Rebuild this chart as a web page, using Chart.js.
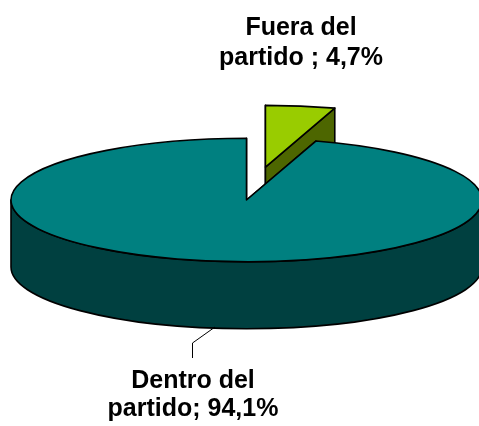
<!DOCTYPE html>
<html>
<head>
<meta charset="utf-8">
<script src="https://cdn.jsdelivr.net/npm/chart.js@4/dist/chart.umd.min.js"></script>
<style>
  html, body { margin: 0; padding: 0; background: #ffffff; }
  #wrap { width: 479px; height: 426px; position: relative; }
</style>
</head>
<body>
<div id="wrap"><canvas id="c" width="479" height="426"></canvas></div>
<script>
// ---- data ----
const categories = ['Fuera del partido', 'Dentro del partido'];
const values = [4.7, 94.1];
const labelLines = [['Fuera del', 'partido'], ['Dentro del', 'partido']];
const labelSeparators = [' ; ', '; '];

// ---- styles ----
const topColors = ['#99CC00', '#008080'];
const sideColors = ['#4D6600', '#004040'];
const explode = [0.54, 0];

const CX = 246.5, CY = 200, RX = 235.5, RY = 61.7, DEPTH = 67;
const FONT = 'bold 25px "Liberation Sans", Arial, sans-serif';

function fmt(v) { return v.toFixed(1).replace('.', ',') + '%'; }

const pie3d = {
  id: 'pie3d',
  beforeDatasetsDraw(chart) {
    const ctx = chart.ctx;
    const meta = chart.getDatasetMeta(0);
    const slices = meta.data.map((arc, i) => {
      const s = arc.startAngle, e = arc.endAngle, mid = (s + e) / 2;
      const ex = explode[i] || 0;
      return {
        i, s, e, mid,
        cx: CX + ex * RX * Math.cos(mid),
        cy: CY + ex * RY * Math.sin(mid),
        top: topColors[i], side: sideColors[i]
      };
    }).sort((a, b) => Math.sin(a.mid) - Math.sin(b.mid));

    ctx.save();
    ctx.lineWidth = 1.6;
    ctx.strokeStyle = '#000000';
    ctx.lineJoin = 'round';
    for (const sl of slices) {
      const {cx, cy, s, e} = sl;
      // radial walls, back first
      const walls = [s, e].sort((a, b) => Math.sin(a) - Math.sin(b));
      for (const a of walls) {
        const px = cx + RX * Math.cos(a), py = cy + RY * Math.sin(a);
        ctx.beginPath();
        ctx.moveTo(cx, cy);
        ctx.lineTo(px, py);
        ctx.lineTo(px, py + DEPTH);
        ctx.lineTo(cx, cy + DEPTH);
        ctx.closePath();
        ctx.fillStyle = sl.side;
        ctx.fill();
        ctx.stroke();
      }
      // front rim
      for (const k of [-2 * Math.PI, 0, 2 * Math.PI]) {
        const lo = Math.max(s, k), hi = Math.min(e, Math.PI + k);
        if (lo < hi) {
          ctx.beginPath();
          ctx.ellipse(cx, cy, RX, RY, 0, lo, hi, false);
          ctx.lineTo(cx + RX * Math.cos(hi), cy + RY * Math.sin(hi) + DEPTH);
          ctx.ellipse(cx, cy + DEPTH, RX, RY, 0, hi, lo, true);
          ctx.closePath();
          ctx.fillStyle = sl.side;
          ctx.fill();
          ctx.stroke();
        }
      }
      // top face
      ctx.beginPath();
      ctx.moveTo(cx, cy);
      ctx.ellipse(cx, cy, RX, RY, 0, s, e, false);
      ctx.closePath();
      ctx.fillStyle = sl.top;
      ctx.fill();
      ctx.stroke();
    }
    ctx.restore();
    return false;
  },
  afterDraw(chart) {
    const ctx = chart.ctx;
    const ds = chart.data.datasets[0];
    ctx.save();
    // leader line for the large slice
    ctx.strokeStyle = '#000000';
    ctx.lineWidth = 1;
    ctx.beginPath();
    ctx.moveTo(215, 327);
    ctx.lineTo(192.5, 343);
    ctx.lineTo(192.5, 358);
    ctx.stroke();

    ctx.font = FONT;
    ctx.fillStyle = '#000000';
    ctx.textAlign = 'center';
    ctx.textBaseline = 'alphabetic';
    const pos = [{x: 301, y: [35, 65]}, {x: 193, y: [388, 416]}];
    ds.data.forEach((v, i) => {
      const l1 = labelLines[i][0];
      const l2 = labelLines[i][1] + labelSeparators[i] + fmt(v);
      ctx.fillText(l1, pos[i].x, pos[i].y[0]);
      ctx.fillText(l2, pos[i].x, pos[i].y[1]);
    });
    ctx.restore();
  }
};

new Chart(document.getElementById('c'), {
  type: 'pie',
  data: {
    labels: categories,
    datasets: [{
      data: values,
      backgroundColor: topColors,
      borderColor: '#000000',
      borderWidth: 1
    }]
  },
  options: {
    responsive: false,
    animation: false,
    events: [],
    plugins: { legend: { display: false }, tooltip: { enabled: false } }
  },
  plugins: [pie3d]
});
</script>
</body>
</html>
